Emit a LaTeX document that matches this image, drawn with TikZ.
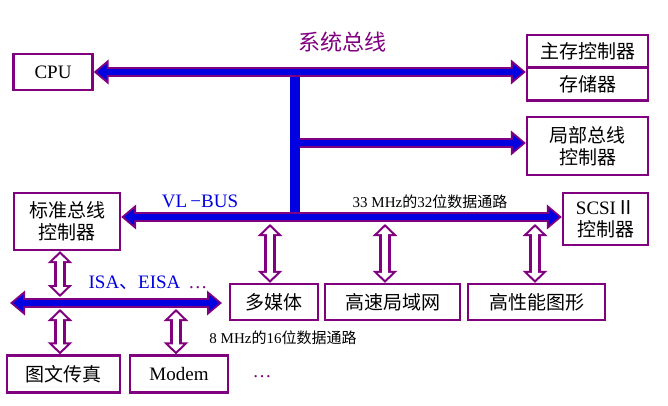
\documentclass[tikz,border=0pt]{standalone}
\usepackage{fontspec}
\setmainfont{Liberation Serif}
\newfontfamily\cjk{Noto Sans CJK SC}
\usetikzlibrary{arrows.meta}
\definecolor{pur}{HTML}{800080}
\definecolor{bblue}{HTML}{0000E0}
\begin{document}
\begin{tikzpicture}[x=1pt,y=-1pt,
  box/.style={draw=pur,line width=2.2pt,fill=white,inner sep=0pt,font=\fontsize{19}{22}\selectfont,align=center},
  busO/.style={draw=pur,line width=10pt,-{Triangle[length=15pt,width=24pt]}},
  busI/.style={draw=bblue,line width=6pt,shorten >=3pt,-{Triangle[length=10pt,width=16pt]}},
  busOd/.style={busO,{Triangle[length=15pt,width=24pt]}-{Triangle[length=15pt,width=24pt]}},
  busId/.style={busI,shorten <=3pt,{Triangle[length=10pt,width=16pt]}-{Triangle[length=10pt,width=16pt]}},
  holO/.style={draw=pur,line width=12pt,{Triangle[length=12pt,width=24pt]}-{Triangle[length=12pt,width=24pt]}},
  holI/.style={draw=white,line width=6.5pt,shorten >=3pt,shorten <=3pt,{Triangle[length=7pt,width=14pt]}-{Triangle[length=7pt,width=14pt]}}]
\useasboundingbox (0,0) rectangle (668,406);
% boxes
\node[box,minimum width=79pt,minimum height=36pt] (cpu) at (53,72) {CPU};
\node[box,minimum width=121pt,minimum height=33pt] (mc) at (587.5,51.5) {\cjk 主存控制器};
\node[box,minimum width=121pt,minimum height=33pt] (mem) at (587.5,84) {\cjk 存储器};
\node[box,minimum width=121pt,minimum height=58pt] (lb) at (587.5,146) {\cjk 局部总线\\\cjk 控制器};
\node[box,minimum width=106pt,minimum height=57pt] (sb) at (67,221.5) {\cjk 标准总线\\\cjk 控制器};
\node[box,minimum width=85pt,minimum height=52pt] (scsi) at (605.5,219) {SCSI{\cjk Ⅱ}\\\cjk 控制器};
\node[box,minimum width=88pt,minimum height=36pt] (mm) at (274,302) {\cjk 多媒体};
\node[box,minimum width=135pt,minimum height=36pt] (lan) at (392.5,302) {\cjk 高速局域网};
\node[box,minimum width=137pt,minimum height=36pt] (gfx) at (536.5,302) {\cjk 高性能图形};
\node[box,minimum width=113pt,minimum height=37pt] (fax) at (63.5,374) {\cjk 图文传真};
\node[box,minimum width=98pt,minimum height=37pt] (modem) at (179,374) {Modem};
% labels
\node[text=pur,font=\cjk\fontsize{22}{24}\selectfont] (sysl) at (342,42) {系统总线};
\node[text=bblue,font=\fontsize{19}{22}\selectfont] (vll) at (200,201) {VL\,\textminus BUS};
\node[font=\fontsize{15}{18}\selectfont] (v33) at (430,202) {33 MHz{\cjk 的}32{\cjk 位数据通路}};
\node[text=bblue,font=\fontsize{19}{22}\selectfont] (isal) at (148,283) {ISA{\cjk 、}EISA \textcolor{pur}{\,…}};
\node[font=\fontsize{15}{18}\selectfont] (i8) at (283,338) {8 MHz{\cjk 的}16{\cjk 位数据通路}};
\node[text=pur,font=\fontsize{19}{22}\selectfont] (dots) at (262,377) {…};
% coordinates
\coordinate (vtop) at (295,72);
\coordinate (vbot) at (295,217);
\coordinate (br) at (300,143);
\coordinate (isaL) at (10,303);
\coordinate (isaR) at (222,303);
% vertical bar
\draw[bblue,line width=10pt] (vtop) -- (vbot);
% system bus
\draw[busOd] (cpu.east) -- (cpu.east -| mc.west);
\draw[busId] (cpu.east) -- (cpu.east -| mc.west);
% branch to local bus
\draw[busO] (br) -- (br -| lb.west);
\draw[busI] (br) -- (br -| lb.west);
% VL bus
\draw[busOd] (sb.east |- vbot) -- (scsi.west |- vbot);
\draw[busId] (sb.east |- vbot) -- (scsi.west |- vbot);
% ISA bus
\draw[busOd] (isaL) -- (isaR);
\draw[busId] (isaL) -- (isaR);
% hollow arrows
\foreach \s in {holO,holI}{
  \draw[\s] (270,224) -- (mm.north -| 270,0);
  \draw[\s] (385,224) -- (lan.north -| 385,0);
  \draw[\s] (535,224) -- (gfx.north -| 535,0);
  \draw[\s] (sb.south -| 60,0) -- (60,297);
  \draw[\s] (60,309) -- (fax.north -| 60,0);
  \draw[\s] (176,309) -- (modem.north -| 176,0);
}
\end{tikzpicture}
\end{document}
